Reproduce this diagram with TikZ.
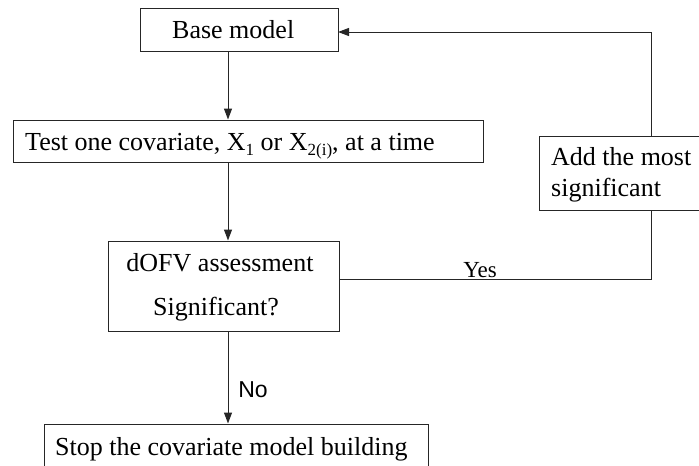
\documentclass[tikz,border=0pt]{standalone}
\usepackage{fontspec}
\setmainfont{Liberation Serif}
\newfontfamily\nosans{Liberation Sans}
\usetikzlibrary{arrows.meta}
\newcommand{\lowsub}[1]{\raisebox{-0.45ex}{\fontsize{17}{20}\selectfont #1}}
\begin{document}
\begin{tikzpicture}[x=1pt,y=-1pt,
  boxline/.style={draw=black!85, line width=1pt},
  conn/.style={draw=black!85, line width=1pt},
  arr/.style={conn,-{Triangle[length=11pt,width=8pt]}},
  txt/.style={anchor=base west, inner sep=0pt, font=\fontsize{26}{30}\selectfont},
  txtc/.style={anchor=base, inner sep=0pt, font=\fontsize{26}{30}\selectfont}]
\useasboundingbox (0,0) rectangle (699,466);
\clip (0,0) rectangle (699,466);
% boxes
\node[boxline, minimum width=198pt, minimum height=43pt, inner sep=0pt] (base) at (239,29.5) {};
\node[boxline, minimum width=470pt, minimum height=42pt, inner sep=0pt] (test) at (248,141) {};
\node[boxline, minimum width=231pt, minimum height=90pt, inner sep=0pt] (dofv) at (223.5,286) {};
\node[boxline, minimum width=384pt, minimum height=60pt, inner sep=0pt] (stop) at (236,454) {};
\node[boxline, minimum width=170pt, minimum height=74pt, inner sep=0pt] (add) at (624,173) {};
% texts
\node[txt] (tbase) at (172,38) {Base model};
\node[txt] (ttest) at (25,150) {Test one covariate, X\lowsub{1} or X\lowsub{2(i)}, at a time};
\node[txtc] (tdofv1) at (220,271) {dOFV assessment};
\node[txtc] (tdofv2) at (216,315) {Significant?};
\node[txt] (tadd1) at (551,165) {Add the most};
\node[txt] (tadd2) at (551,196) {significant};
\node[txt] (tstop) at (55,455) {Stop the covariate model building};
\node[anchor=base, inner sep=0pt, font=\fontsize{23}{26}\selectfont] (yes) at (480,277) {Yes};
\node[anchor=base, inner sep=0pt, font=\nosans\fontsize{23}{26}\selectfont] (no) at (253,397) {No};
% coordinates
\coordinate (c1) at (651,279);
\coordinate (c2) at (651,32);
\coordinate (c3) at (338,32);
% connectors
\draw[arr] (base.south -| 228,0) -- (test.north -| 228,0);
\draw[arr] (test.south -| 228,0) -- (dofv.north -| 228,0);
\draw[arr] (dofv.south -| 228,0) -- (stop.north -| 228,0);
\draw[conn] (dofv.east |- c1) -- (c1) -- (add.south -| c1);
\draw[conn] (add.north -| c1) -- (c2);
\draw[arr] (c2) -- (c3);
\end{tikzpicture}
\end{document}
